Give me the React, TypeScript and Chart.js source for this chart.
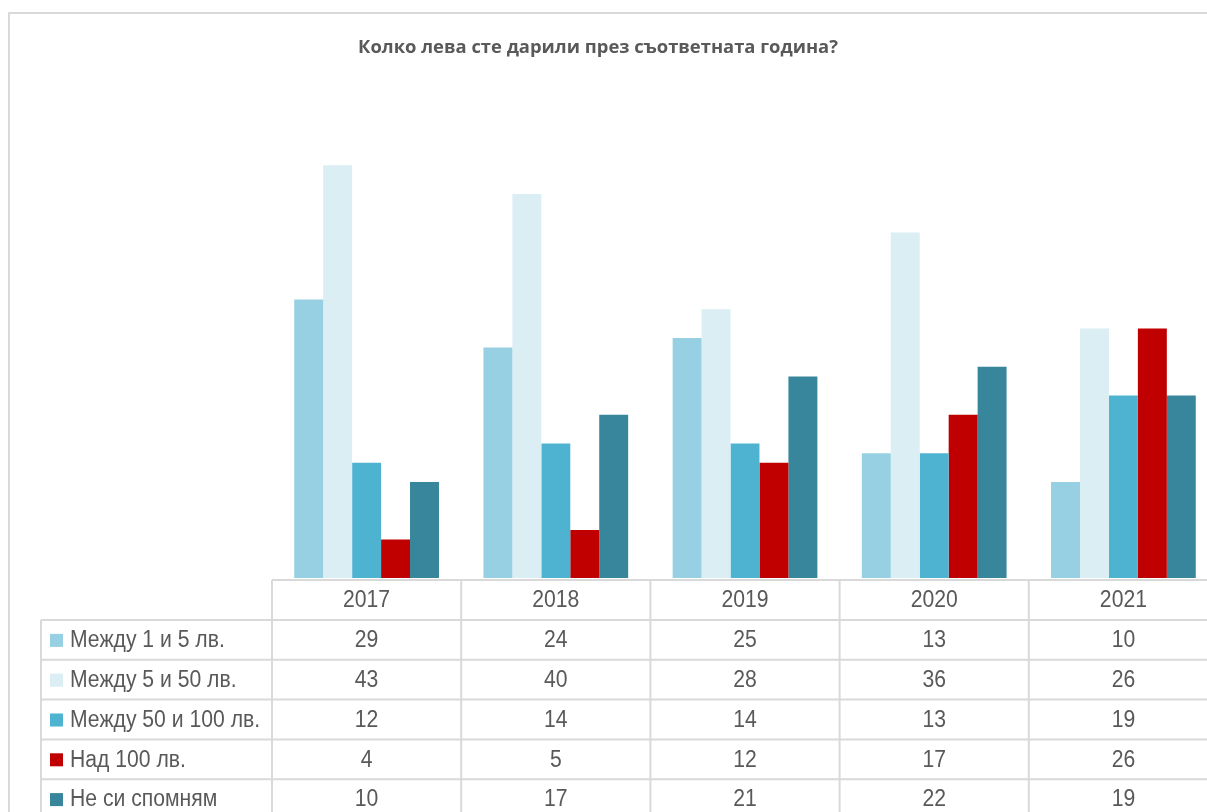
import React, { useEffect, useRef } from "react";
import { Chart, registerables } from "chart.js";

Chart.register(...registerables);

const TITLE = "Колко лева сте дарили през съответната година?";
const years = ["2017", "2018", "2019", "2020", "2021"];
const seriesNames = [
  "Между 1 и 5 лв.",
  "Между 5 и 50 лв.",
  "Между 50 и 100 лв.",
  "Над 100 лв.",
  "Не си спомням",
];
const between1and5 = [29, 24, 25, 13, 10];
const between5and50 = [43, 40, 28, 36, 26];
const between50and100 = [12, 14, 14, 13, 19];
const over100 = [4, 5, 12, 17, 26];
const dontRemember = [10, 17, 21, 22, 19];
const seriesValues = [between1and5, between5and50, between50and100, over100, dontRemember];
const seriesColors = ["#97d0e2", "#daeef4", "#4eb3d1", "#c00000", "#38869b"];

const CANVAS_W = 1230;
const CANVAS_H = 840;
const TEXT_COLOR = "#595959";
const LINE_COLOR = "#d9d9d9";

function drawScaledText(ctx: CanvasRenderingContext2D, text: string, x: number, y: number, align: CanvasTextAlign) {
  ctx.save();
  ctx.translate(x, y);
  ctx.scale(0.92, 1);
  ctx.textAlign = align;
  ctx.textBaseline = "middle";
  ctx.fillText(text, 0, 0);
  ctx.restore();
}

const tablePlugin = {
  id: "dataTable",
  afterDraw(chart: any) {
    const ctx: CanvasRenderingContext2D = chart.ctx;
    const ca = chart.chartArea;
    const xs = chart.scales.x;
    const colW = (ca.right - ca.left) / years.length;
    const tableTop = ca.bottom + 2;
    const headerH = 40;
    const rowH = 39.8;
    const legendLeft = 33;
    const nRows = seriesNames.length;
    const bottom = tableTop + headerH + rowH * nRows;

    ctx.save();
    // frame
    ctx.strokeStyle = LINE_COLOR;
    ctx.lineWidth = 2;
    ctx.strokeRect(1, 5, CANVAS_W + 20, CANVAS_H + 20);

    // title
    ctx.fillStyle = TEXT_COLOR;
    ctx.font = "bold 18.4px 'Open Sans'";
    ctx.textAlign = "center";
    ctx.textBaseline = "middle";
    ctx.fillText(TITLE, 590, 40);

    // grid lines
    ctx.strokeStyle = LINE_COLOR;
    ctx.lineWidth = 2;
    ctx.beginPath();
    ctx.moveTo(ca.left, tableTop);
    ctx.lineTo(ca.right, tableTop);
    for (let r = 0; r <= nRows; r++) {
      const y = tableTop + headerH + r * rowH;
      ctx.moveTo(legendLeft, y);
      ctx.lineTo(ca.right, y);
    }
    ctx.moveTo(legendLeft, tableTop + headerH);
    ctx.lineTo(legendLeft, bottom);
    for (let c = 0; c <= years.length; c++) {
      const x = ca.left + c * colW;
      ctx.moveTo(x, tableTop);
      ctx.lineTo(x, bottom);
    }
    ctx.stroke();

    // text
    ctx.fillStyle = TEXT_COLOR;
    ctx.font = "23px 'Liberation Sans', Arial, sans-serif";
    years.forEach((yr, i) => {
      const cx = xs.getPixelForValue(i);
      drawScaledText(ctx, yr, cx, tableTop + headerH / 2 + 1, "center");
    });
    seriesNames.forEach((name, r) => {
      const cy = tableTop + headerH + r * rowH + rowH / 2 + 1;
      ctx.fillStyle = seriesColors[r];
      ctx.fillRect(legendLeft + 9, cy - 7, 13, 13);
      ctx.fillStyle = TEXT_COLOR;
      drawScaledText(ctx, name, legendLeft + 29, cy, "left");
      seriesValues[r].forEach((v, i) => {
        const cx = xs.getPixelForValue(i);
        drawScaledText(ctx, String(v), cx, cy, "center");
      });
    });
    ctx.restore();
  },
};

export default function App() {
  const ref = useRef<HTMLCanvasElement | null>(null);
  useEffect(() => {
    const prevMargin = document.body.style.margin;
    document.body.style.margin = "0";
    if (!ref.current) return;
    const chart = new Chart(ref.current, {
      type: "bar",
      data: {
        labels: years,
        datasets: seriesNames.map((name, i) => ({
          label: name,
          data: seriesValues[i],
          backgroundColor: seriesColors[i],
          borderWidth: 0,
          categoryPercentage: 0.765,
          barPercentage: 1.0,
        })),
      },
      options: {
        responsive: false,
        animation: false,
        devicePixelRatio: 1,
        layout: { padding: { left: 264, right: CANVAS_W - 1210, top: 90, bottom: CANVAS_H - 570 } },
        scales: {
          x: { display: false },
          y: { display: false, min: 0, max: 50 },
        },
        plugins: {
          legend: { display: false },
          tooltip: { enabled: false },
          title: { display: false },
        },
      },
      plugins: [tablePlugin],
    });
    return () => {
      chart.destroy();
      document.body.style.margin = prevMargin;
    };
  }, []);
  return (
    <div style={{ width: 1199, height: 804, paddingLeft: 8, paddingTop: 8, overflow: "hidden" }}>
      <canvas ref={ref} width={CANVAS_W} height={CANVAS_H} style={{ display: "block" }} />
    </div>
  );
}
